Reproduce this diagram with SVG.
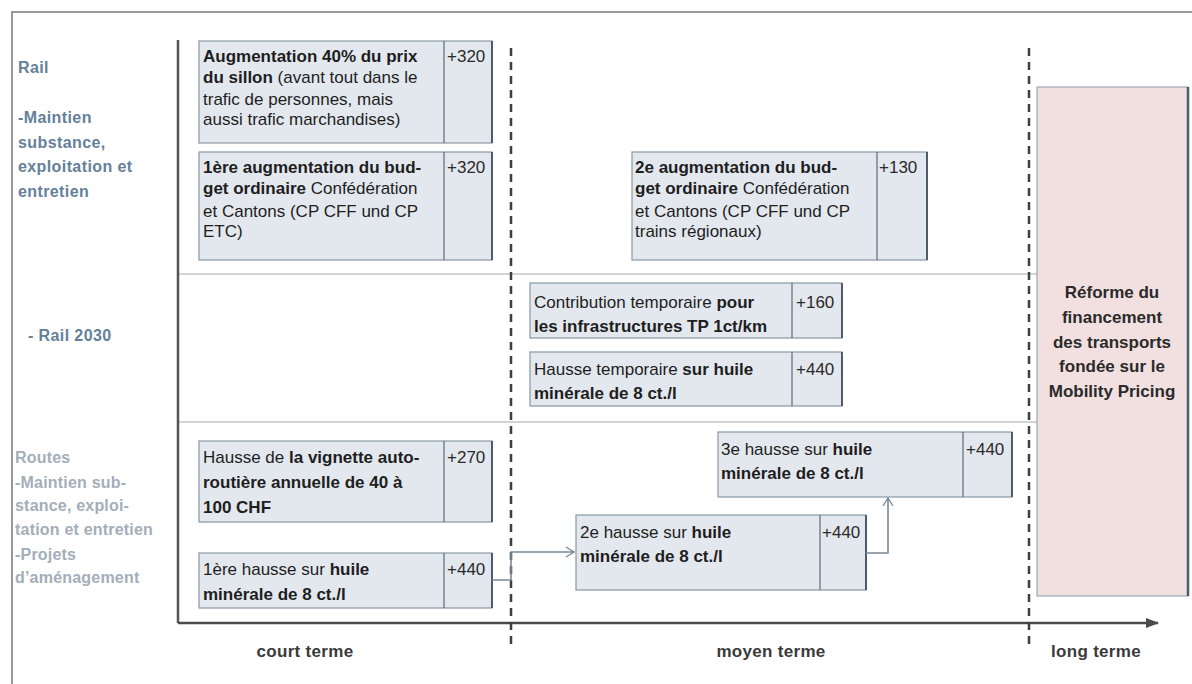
<svg xmlns="http://www.w3.org/2000/svg" width="1192" height="684" viewBox="0 0 1192 684">
<style>
text{font-family:"Liberation Sans",Arial,sans-serif;}
.bt{font-size:17px;fill:#1e1e1e;}
.b{font-weight:bold;}
.num{font-size:17px;fill:#2a2a2a;}
.box{fill:#e3e8ee;stroke:#8797a6;stroke-width:1.2;}
.sh{stroke:#4c5c6c;stroke-width:2;fill:none;}
.div{stroke:#5d6b78;stroke-width:1.2;}
.lr{font-size:16px;font-weight:bold;fill:#64809a;letter-spacing:0.4px;}
.lg{font-size:16px;font-weight:bold;fill:#a3aeb8;letter-spacing:0.2px;}
.ax{font-size:17px;font-weight:bold;fill:#3a3a3a;letter-spacing:0.3px;}
.dash{stroke:#3f3f3f;stroke-width:2.5;stroke-dasharray:8 6;fill:none;}
.sep{stroke:#d2d5d8;stroke-width:2;}
.con{stroke:#7b8895;stroke-width:1.6;fill:none;}
</style>
<defs>
<marker id="open" markerWidth="12" markerHeight="12" refX="10" refY="6" orient="auto" markerUnits="userSpaceOnUse">
<path d="M2,1 L10,6 L2,11" fill="none" stroke="#7b8895" stroke-width="1.4"/>
</marker>
<marker id="fill" markerWidth="14" markerHeight="12" refX="12" refY="6" orient="auto" markerUnits="userSpaceOnUse">
<path d="M0,1 L13,6 L0,11 Z" fill="#4a4a4a"/>
</marker>
</defs>
<rect width="1192" height="684" fill="#ffffff"/>
<g id="frame">
<path d="M12,684 V12 H1192" fill="none" stroke="#777" stroke-width="1.5"/>
</g>
<g id="labels">
<text class="lr" x="18" y="73">Rail</text>
<text class="lr" x="18" y="123">-Maintien</text>
<text class="lr" x="18" y="148">substance,</text>
<text class="lr" x="18" y="172">exploitation et</text>
<text class="lr" x="18" y="197">entretien</text>
<text class="lr" x="28" y="341">- Rail 2030</text>
<text class="lg" x="15" y="463">Routes</text>
<text class="lg" x="15" y="488">-Maintien sub-</text>
<text class="lg" x="15" y="511">stance, exploi-</text>
<text class="lg" x="15" y="535">tation et entretien</text>
<text class="lg" x="15" y="560">-Projets</text>
<text class="lg" x="15" y="583">d’aménagement</text>
</g>
<g id="grid">
<line class="sep" x1="178" y1="274" x2="1037" y2="274"/>
<line class="sep" x1="178" y1="422" x2="1037" y2="422"/>
<line x1="178" y1="40" x2="178" y2="623" stroke="#555" stroke-width="2.5"/>
<line x1="178" y1="623" x2="1158" y2="623" stroke="#4a4a4a" stroke-width="2.5" marker-end="url(#fill)"/>
<line class="dash" x1="511" y1="48" x2="511" y2="645"/>
<line class="dash" x1="1029" y1="48" x2="1029" y2="645"/>
<text class="ax" x="305" y="657" text-anchor="middle">court terme</text>
<text class="ax" x="771" y="657" text-anchor="middle">moyen terme</text>
<text class="ax" x="1096" y="657" text-anchor="middle">long terme</text>
</g>
<g id="n1">
<rect class="box" x="199" y="41" width="293" height="102"/>
<path class="sh" d="M492,41 V143"/>
<line class="div" x1="444" y1="41" x2="444" y2="143"/>
<text class="bt"><tspan x="203" y="62" class="b">Augmentation 40% du prix</tspan><tspan x="203" y="83"><tspan class="b">du sillon</tspan> (avant tout dans le</tspan><tspan x="203" y="105">trafic de personnes, mais</tspan><tspan x="203" y="125">aussi trafic marchandises)</tspan></text>
<text class="num" x="447" y="62">+320</text>
</g>
<g id="n2">
<rect class="box" x="199" y="152" width="293" height="108"/>
<path class="sh" d="M492,152 V260"/>
<line class="div" x1="444" y1="152" x2="444" y2="260"/>
<text class="bt"><tspan x="203" y="173" class="b">1ère augmentation du bud-</tspan><tspan x="203" y="194"><tspan class="b">get ordinaire</tspan>  Confédération</tspan><tspan x="203" y="217">et Cantons (CP CFF und CP</tspan><tspan x="203" y="237">ETC)</tspan></text>
<text class="num" x="447" y="173">+320</text>
</g>
<g id="n3">
<rect class="box" x="632" y="152" width="295" height="108"/>
<path class="sh" d="M927,152 V260"/>
<line class="div" x1="877" y1="152" x2="877" y2="260"/>
<text class="bt"><tspan x="635" y="173" class="b">2e augmentation du bud-</tspan><tspan x="635" y="194"><tspan class="b">get ordinaire</tspan> Confédération</tspan><tspan x="635" y="217">et Cantons (CP CFF und CP</tspan><tspan x="635" y="237">trains régionaux)</tspan></text>
<text class="num" x="879" y="173">+130</text>
</g>
<g id="n4">
<rect class="box" x="530" y="283" width="312" height="55"/>
<path class="sh" d="M842,283 V338"/>
<line class="div" x1="792" y1="283" x2="792" y2="338"/>
<text class="bt"><tspan x="534" y="308">Contribution temporaire <tspan class="b">pour</tspan></tspan><tspan x="534" y="332" class="b">les infrastructures TP 1ct/km</tspan></text>
<text class="num" x="796" y="308">+160</text>
</g>
<g id="n5">
<rect class="box" x="530" y="352" width="312" height="54"/>
<path class="sh" d="M842,352 V406"/>
<line class="div" x1="792" y1="352" x2="792" y2="406"/>
<text class="bt"><tspan x="534" y="375">Hausse temporaire  <tspan class="b">sur huile</tspan></tspan><tspan x="534" y="399" class="b">minérale de 8 ct./l</tspan></text>
<text class="num" x="796" y="375">+440</text>
</g>
<g id="n6">
<rect class="box" x="199" y="441" width="293" height="81"/>
<path class="sh" d="M492,441 V522"/>
<line class="div" x1="444" y1="441" x2="444" y2="522"/>
<text class="bt"><tspan x="203" y="463">Hausse de <tspan class="b">la vignette auto-</tspan></tspan><tspan x="203" y="488" class="b">routière annuelle de 40 à</tspan><tspan x="203" y="513" class="b">100 CHF</tspan></text>
<text class="num" x="447" y="463">+270</text>
</g>
<g id="n7">
<rect class="box" x="199" y="553" width="293" height="55"/>
<path class="sh" d="M492,553 V608"/>
<line class="div" x1="444" y1="553" x2="444" y2="608"/>
<text class="bt"><tspan x="203" y="575">1ère hausse sur <tspan class="b">huile</tspan></tspan><tspan x="203" y="600" class="b">minérale de 8 ct./l</tspan></text>
<text class="num" x="447" y="575">+440</text>
</g>
<g id="n8">
<rect class="box" x="576" y="515" width="290" height="75"/>
<path class="sh" d="M866,515 V590"/>
<line class="div" x1="820" y1="515" x2="820" y2="590"/>
<text class="bt"><tspan x="580" y="538">2e hausse  sur <tspan class="b">huile</tspan></tspan><tspan x="580" y="562" class="b">minérale de  8 ct./l</tspan></text>
<text class="num" x="822" y="538">+440</text>
</g>
<g id="n9">
<rect class="box" x="718" y="432" width="294" height="65"/>
<path class="sh" d="M1012,432 V497"/>
<line class="div" x1="963" y1="432" x2="963" y2="497"/>
<text class="bt"><tspan x="721" y="455">3e hausse  sur <tspan class="b">huile</tspan></tspan><tspan x="721" y="479" class="b">minérale de  8 ct./l</tspan></text>
<text class="num" x="966" y="455">+440</text>
</g>
<g id="n10">
<rect x="1037" y="87" width="151" height="509" fill="#f2e0e1" stroke="#8a9aa8" stroke-width="1"/>
<path d="M1188,87 V596" stroke="#4c5c6c" stroke-width="2.5" fill="none"/>
<text class="b" font-size="17" fill="#2a2a2a" text-anchor="middle"><tspan x="1112" y="298">Réforme du</tspan><tspan x="1112" y="323">financement</tspan><tspan x="1112" y="348">des transports</tspan><tspan x="1112" y="372">fondée sur le</tspan><tspan x="1112" y="397">Mobility Pricing</tspan></text>
</g>
<g id="connectors">
<path class="con" d="M492,580 H511 V552 H574" marker-end="url(#open)"/>
<path class="con" d="M866,553 H888 V498" marker-end="url(#open)"/>
</g>
</svg>
